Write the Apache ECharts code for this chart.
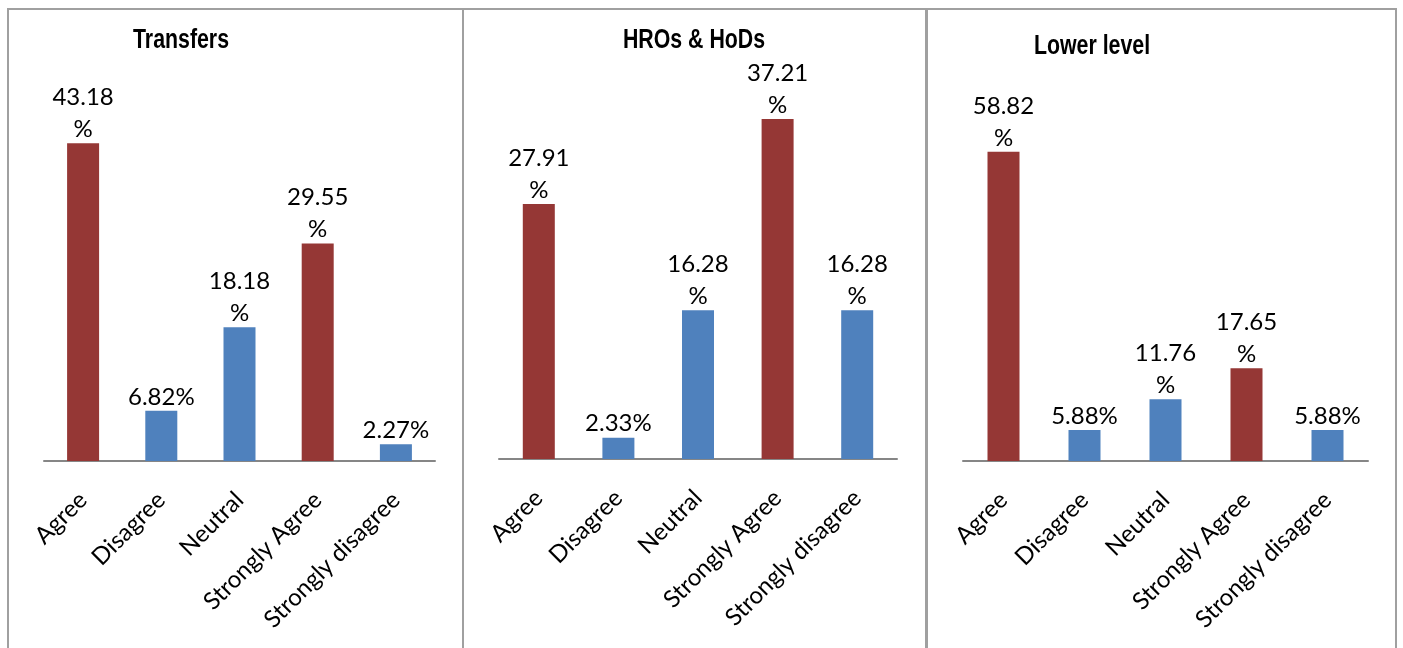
<!DOCTYPE html>
<html>
<head>
<meta charset="utf-8">
<script src="https://cdn.jsdelivr.net/npm/echarts@6/dist/echarts.min.js"></script>
<style>
  html, body { margin: 0; padding: 0; background: #fff; }
  #chart { width: 1403px; height: 648px; }
</style>
</head>
<body>
<div id="chart"></div>
<script>
// data
const categories = ["Agree", "Disagree", "Neutral", "Strongly Agree", "Strongly disagree"];
const transfers = [43.18, 6.82, 18.18, 29.55, 2.27];
const hrosHods = [27.91, 2.33, 16.28, 37.21, 16.28];
const lowerLevel = [58.82, 5.88, 11.76, 17.65, 5.88];
const panelTitles = ["Transfers", "HROs & HoDs", "Lower level"];
const yMax = [50, 40, 70];

// agree-type answers are red, the rest blue
const barColors = ["#953735", "#4F81BD", "#4F81BD", "#953735", "#4F81BD"];

const seriesData = [transfers, hrosHods, lowerLevel];

// layout of the three panels
const grids = [
  { left: 44, top: 93, width: 391, height: 368 },
  { left: 499, top: 93.5, width: 398, height: 365.5 },
  { left: 963, top: 93, width: 405, height: 368 }
];
const titlePos = [
  { x: 181, y: 27 },
  { x: 694, y: 27 },
  { x: 1092, y: 33 }
];
const panels = [
  { x: 8, w: 455 },
  { x: 463, w: 463 },
  { x: 927, w: 469 }
];

const chart = echarts.init(document.getElementById("chart"));

// panel frames
const frames = panels.map((p) => ({
  type: "rect",
  shape: { x: p.x, y: 9, width: p.w, height: 700 },
  style: { fill: "none", stroke: "#a0a0a0", lineWidth: 2 },
  silent: true,
  z: -1
}));

// titles are a narrow bold face, so squeeze a normal bold one
const titles = panelTitles.map((t, i) => ({
  type: "text",
  x: titlePos[i].x,
  y: titlePos[i].y,
  scaleX: 0.79,
  silent: true,
  style: {
    text: t,
    fontFamily: "'Liberation Sans', Arial, sans-serif",
    fontWeight: "bold",
    fontSize: 27,
    fill: "#000",
    textAlign: "center",
    textVerticalAlign: "top"
  }
}));

const option = {
  animation: false,
  backgroundColor: "#fff",
  graphic: frames.concat(titles),
  grid: grids.map((g) => ({ ...g, containLabel: false })),
  xAxis: grids.map((g, i) => ({
    type: "category",
    gridIndex: i,
    data: categories,
    axisTick: { show: false },
    axisLine: { lineStyle: { color: "#868686", width: 2 } },
    axisLabel: {
      rotate: 45,
      interval: 0,
      margin: 35,
      fontFamily: "Lato, 'Open Sans', sans-serif",
      fontSize: 24,
      color: "#000"
    }
  })),
  yAxis: grids.map((g, i) => ({
    type: "value",
    gridIndex: i,
    min: 0,
    max: yMax[i],
    show: false,
    splitLine: { show: false }
  })),
  series: seriesData.map((vals, i) => ({
    type: "bar",
    xAxisIndex: i,
    yAxisIndex: i,
    data: vals,
    barWidth: 32,
    itemStyle: {
      color: (p) => barColors[p.dataIndex]
    },
    label: {
      show: true,
      position: "top",
      distance: -2,
      fontFamily: "Lato, 'Open Sans', sans-serif",
      fontSize: 24,
      lineHeight: 32,
      color: "#000",
      align: "center",
      formatter: (p) => (p.value >= 10 ? p.value.toFixed(2) + "\n%" : p.value.toFixed(2) + "%")
    }
  }))
};

chart.setOption(option);
</script>
</body>
</html>
